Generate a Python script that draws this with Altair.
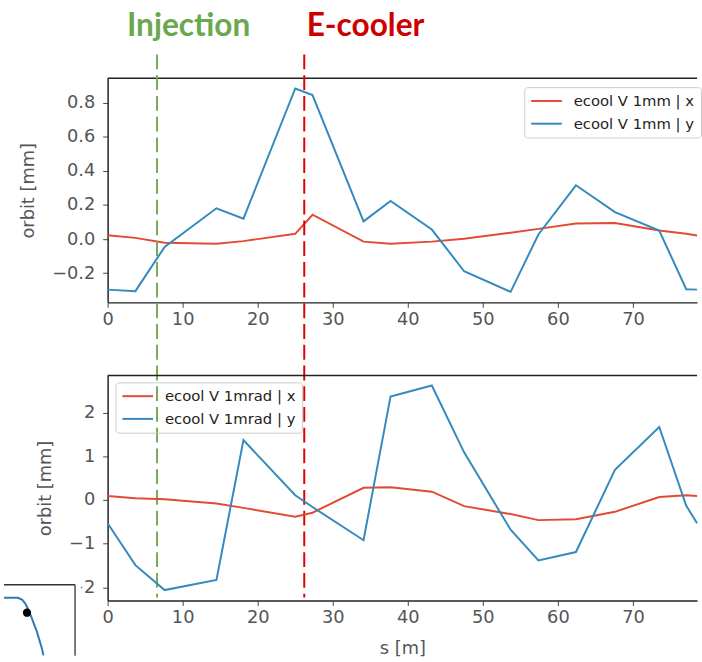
import altair as alt
import pandas as pd

# ---------------- data ----------------
s_pos = [0.0, 3.7, 7.6, 14.5, 18.1, 25.0, 27.3, 34.1, 37.7, 43.2, 47.5, 53.7,
         57.4, 62.4, 67.6, 73.5, 77.1, 78.54]
mm_x = [0.023, 0.007, -0.021, -0.027, -0.012, 0.031, 0.143, -0.015, -0.027,
        -0.015, 0.002, 0.037, 0.060, 0.091, 0.095, 0.050, 0.031, 0.021]
mm_y = [-0.297, -0.306, -0.046, 0.181, 0.120, 0.885, 0.846, 0.104, 0.224,
        0.056, -0.189, -0.310, 0.027, 0.316, 0.158, 0.050, -0.295, -0.297]
mrad_x = [0.09, 0.04, 0.02, -0.08, -0.18, -0.38, -0.29, 0.28, 0.29, 0.19,
          -0.14, -0.32, -0.46, -0.44, -0.27, 0.07, 0.11, 0.09]
mrad_y = [-0.53, -1.49, -2.06, -1.83, 1.37, 0.11, -0.16, -0.92, 2.37, 2.62,
          1.09, -0.68, -1.38, -1.19, 0.69, 1.67, -0.13, -0.53]

top_series = ["ecool V 1mm | x", "ecool V 1mm | y"]
bot_series = ["ecool V 1mrad | x", "ecool V 1mrad | y"]

markers = ["Injection", "E-cooler"]
marker_s = [6.58, 26.2]

s_ticks = [0, 10, 20, 30, 40, 50, 60, 70]
top_ticks = [-0.2, 0.0, 0.2, 0.4, 0.6, 0.8]
bot_ticks = [-2, -1, 0, 1, 2]

# fragment of a neighbouring plot visible in the lower-left corner
inset_u = [0.0, 0.194, 0.254, 0.301, 0.347, 0.393, 0.463, 0.532, 0.556]
inset_v = [0.82, 0.82, 0.793, 0.738, 0.647, 0.533, 0.35, 0.123, 0.02]
inset_dot_u = [0.324]
inset_dot_v = [0.612]

# ---------------- styling ----------------
RED = "#E24A33"
BLUE = "#348ABD"
GREEN_TXT = "#6aa84f"
RED_TXT = "#cc0000"
GREEN_LINE = "#74ad58"
RED_LINE = "#e00000"
W = 597
H1 = 227
H2 = 228
GAP = 74
INSET_BOTTOM = 284
MINUS = "replace(datum.label, '-', '\u2212')"
# long horizontal legend stroke (unit square path stretched to the right)
LEG_PATH = "M-1,0L3.43,0"


def long_df(a, b, names):
    n = len(s_pos)
    return pd.DataFrame({
        "s": s_pos + s_pos,
        "orbit": a + b,
        "series": [names[0]] * n + [names[1]] * n,
    })


top_df = long_df(mm_x, mm_y, top_series)
bot_df = long_df(mrad_x, mrad_y, bot_series)
mark_df = pd.DataFrame({"marker": markers, "s": marker_s})
inset_df = pd.DataFrame({"u": inset_u, "v": inset_v})
inset_dot_df = pd.DataFrame({"u": inset_dot_u, "v": inset_dot_v})

xscale = alt.Scale(domain=[0, 78.54], nice=False, zero=False)


def legend(x, y):
    return alt.Legend(
        title=None, orient="none", legendX=x, legendY=y,
        symbolType=LEG_PATH, symbolSize=196, symbolStrokeWidth=2,
        labelFont="DejaVu Sans", labelFontSize=15, labelColor="#222",
        strokeColor="#cccccc", cornerRadius=3,
        padding=6, rowPadding=7, labelOffset=28,
    )


def border():
    return alt.Chart(alt.Data(values=[{}])).mark_rule(
        color="#222", strokeWidth=1.5
    ).encode(x=alt.value(0), x2=alt.value(W), y=alt.value(0))


def x_axis(title=None, pad=3):
    kw = dict(values=s_ticks, labelFlush=False)
    if title:
        kw.update(title=title, titlePadding=pad)
    else:
        kw.update(title=None)
    return alt.Axis(**kw)


def y_axis(ticks, fmt):
    return alt.Axis(values=ticks, format=fmt, labelExpr=MINUS, labelFlush=False,
                    labelPadding=8, title="orbit [mm]", titlePadding=14)


# ---------------- top panel ----------------
top_lines = alt.Chart(top_df).mark_line(strokeWidth=2).encode(
    x=alt.X("s:Q", scale=xscale, axis=x_axis()),
    y=alt.Y("orbit:Q", scale=alt.Scale(domain=[-0.372, 0.945], nice=False, zero=False),
            axis=y_axis(top_ticks, ".1f")),
    color=alt.Color("series:N", scale=alt.Scale(domain=top_series, range=[RED, BLUE]),
                    legend=legend(422, 9)),
)

rules = alt.Chart(mark_df).mark_rule(strokeWidth=2, strokeDash=[15, 6]).encode(
    x=alt.X("s:Q", scale=xscale),
    y=alt.value(-24), y2=alt.value(H1 + GAP + H2 - 3),
    stroke=alt.Stroke("marker:N", scale=alt.Scale(domain=markers, range=[GREEN_LINE, RED_LINE]),
                      legend=None),
)

texts = []
for name, dx, col in [("Injection", 32, GREEN_TXT), ("E-cooler", 62, RED_TXT)]:
    texts.append(
        alt.Chart(mark_df).transform_filter(alt.datum.marker == name).mark_text(
            font="Lato", fontWeight="bold", fontSize=32, color=col,
            align="center", baseline="alphabetic", dx=dx,
        ).encode(x=alt.X("s:Q", scale=xscale), y=alt.value(-43), text="marker:N")
    )

top = alt.layer(top_lines, border(), rules, *texts).properties(width=W, height=H1)

# ---------------- bottom panel ----------------
bot_lines = alt.Chart(bot_df).mark_line(strokeWidth=2).encode(
    x=alt.X("s:Q", scale=xscale, axis=x_axis("s [m]", 14)),
    y=alt.Y("orbit:Q", scale=alt.Scale(domain=[-2.30, 2.85], nice=False, zero=False),
            axis=y_axis(bot_ticks, "d")),
    color=alt.Color("series:N", scale=alt.Scale(domain=bot_series, range=[RED, BLUE]),
                    legend=legend(8, 7)),
)

inset_bg = alt.Chart(alt.Data(values=[{}])).mark_rect(fill="white").encode(
    x=alt.value(-105), x2=alt.value(-27), y=alt.value(212), y2=alt.value(INSET_BOTTOM)
)
inset_top = alt.Chart(alt.Data(values=[{}])).mark_rule(color="#333", strokeWidth=1.3).encode(
    x=alt.value(-105), x2=alt.value(-33), y=alt.value(212)
)
inset_right = alt.Chart(alt.Data(values=[{}])).mark_rule(color="#333", strokeWidth=1.3).encode(
    x=alt.value(-33), y=alt.value(212), y2=alt.value(INSET_BOTTOM)
)
iu = alt.Scale(domain=[0, 1], range=[-105, -33])
iv = alt.Scale(domain=[0, 1], range=[285, 212])
inset_curve = alt.Chart(inset_df).mark_line(color="#2b7bba", strokeWidth=2).encode(
    x=alt.X("u:Q", scale=iu, axis=None), y=alt.Y("v:Q", scale=iv, axis=None)
)
inset_dots = alt.Chart(inset_dot_df).mark_circle(color="black", opacity=1, size=70).encode(
    x=alt.X("u:Q", scale=iu, axis=None), y=alt.Y("v:Q", scale=iv, axis=None)
)
inset = alt.layer(inset_curve, inset_dots)

bottom = alt.layer(
    bot_lines, border(), inset_bg, inset_top, inset_right, inset
).resolve_scale(x="independent", y="independent").properties(width=W, height=H2)

chart = alt.vconcat(top, bottom, spacing=GAP, bounds="flush").resolve_scale(
    x="independent", y="independent", color="independent", stroke="independent"
).properties(
    padding={"left": 0, "right": 0, "top": 6, "bottom": 0}
).configure_view(strokeWidth=0).configure_axis(
    labelFont="DejaVu Sans", labelFontSize=18, labelColor="#555",
    titleFont="DejaVu Sans", titleFontSize=18, titleColor="#555",
    titleFontWeight="normal", domainColor="#222", domainWidth=1.5,
    tickColor="#444", tickSize=5, tickWidth=1, labelPadding=3, titlePadding=8,
    grid=False,
)

chart.save("out.html", embed_options={"renderer": "svg", "actions": False})
